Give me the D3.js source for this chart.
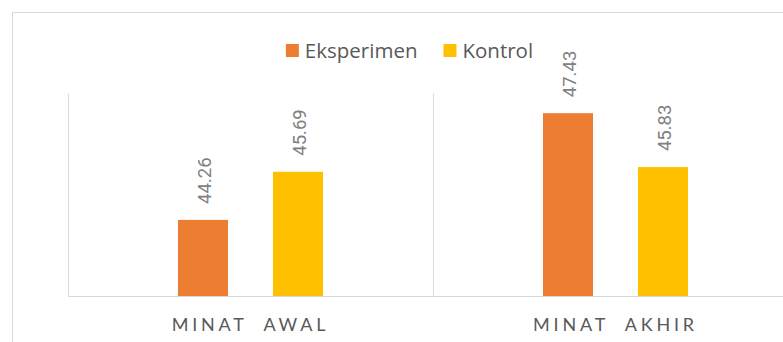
<!DOCTYPE html>
<html>
<head>
<meta charset="utf-8">
<script src="https://cdn.jsdelivr.net/npm/d3@7"></script>
<style>
  html, body { margin: 0; padding: 0; background: #ffffff; }
  svg { display: block; }
</style>
</head>
<body>
<script>
// Mean interest scores before and after, per group
const categories = ["MINAT  AWAL", "MINAT  AKHIR"];
const seriesNames = ["Eksperimen", "Kontrol"];
const eksperimen = [44.26, 47.43];
const kontrol = [45.69, 45.83];
const colors = ["#ED7D31", "#FFC000"];
const yDomain = [42, 48];

const W = 783, H = 342;
const svg = d3.select("body").append("svg").attr("width", W).attr("height", H);

// chart frame
const frame = { left: 12, top: 12, right: 807, bottom: 360 };
svg.append("rect")
  .attr("x", frame.left + 0.5).attr("y", frame.top + 0.5)
  .attr("width", frame.right - frame.left).attr("height", frame.bottom - frame.top)
  .attr("fill", "#fff").attr("stroke", "#d9d9d9").attr("stroke-width", 1);

const plot = { left: 68, right: 798, top: 94, bottom: 296 };

const x = d3.scaleBand().domain(categories).range([plot.left, plot.right]).paddingInner(0).paddingOuter(0);
const y = d3.scaleLinear().domain(yDomain).range([plot.bottom, plot.top]);
const xs = d3.scaleBand().domain(seriesNames).range([0, x.bandwidth()]).paddingInner(0.4737).paddingOuter(1.158);

// vertical category separators
const seps = [plot.left, ...categories.map(c => x(c) + x.bandwidth())];
svg.append("g").selectAll("line").data(seps).join("line")
  .attr("x1", d => d + 0.5).attr("x2", d => d + 0.5)
  .attr("y1", plot.top).attr("y2", plot.bottom)
  .attr("stroke", "#d9d9d9").attr("stroke-width", 1);

// bars
const rows = categories.map((c, i) => ({ cat: c, values: [eksperimen[i], kontrol[i]] }));
const groups = svg.append("g").selectAll("g").data(rows).join("g")
  .attr("transform", d => `translate(${x(d.cat)},0)`);

groups.selectAll("rect").data(d => d.values.map((v, j) => ({ v, s: seriesNames[j], j })))
  .join("rect")
  .attr("x", d => xs(d.s))
  .attr("width", xs.bandwidth())
  .attr("y", d => y(d.v))
  .attr("height", d => y(yDomain[0]) - y(d.v))
  .attr("fill", d => colors[d.j]);

// value labels, rotated
groups.selectAll("text").data(d => d.values.map((v, j) => ({ v, s: seriesNames[j], j })))
  .join("text")
  .attr("transform", d => `translate(${xs(d.s) + xs.bandwidth() / 2 + 8},${y(d.v) - 16}) rotate(-90)`)
  .attr("font-family", "Roboto, 'Liberation Sans', sans-serif")
  .attr("font-size", 18.5)
  .attr("fill", "#7f7f7f")
  .text(d => d.v.toFixed(2));

// baseline
svg.append("line")
  .attr("x1", plot.left).attr("x2", plot.right)
  .attr("y1", plot.bottom + 0.5).attr("y2", plot.bottom + 0.5)
  .attr("stroke", "#d9d9d9").attr("stroke-width", 1);

// category axis labels
const xAxis = d3.axisBottom(x).tickSize(0).tickPadding(0);
const ax = svg.append("g").attr("transform", `translate(0,${plot.bottom})`).call(xAxis);
ax.select(".domain").remove();
ax.selectAll("text")
  .attr("y", 35)
  .attr("dy", null)
  .attr("font-family", "Lato, 'Open Sans', sans-serif")
  .attr("font-size", 18)
  .attr("letter-spacing", "3.8px")
  .attr("fill", "#595959")
  .style("white-space", "pre");

// legend
const legend = svg.append("g");
const items = legend.selectAll("g").data(seriesNames).join("g");
items.append("rect").attr("width", 13).attr("height", 13).attr("y", 44)
  .attr("fill", (d, i) => colors[i]);
items.append("text")
  .attr("x", 19).attr("y", 58)
  .attr("font-family", "'Open Sans', sans-serif")
  .attr("font-size", 20.5)
  .attr("fill", "#595959")
  .text(d => d);
let cx = 0;
items.each(function () {
  const g = d3.select(this);
  g.attr("transform", `translate(${cx},0)`);
  cx += 19 + g.select("text").node().getComputedTextLength() + 26;
});
const legendW = cx - 26;
legend.attr("transform", `translate(${(frame.left + frame.right) / 2 - legendW / 2},0)`);
</script>
</body>
</html>
